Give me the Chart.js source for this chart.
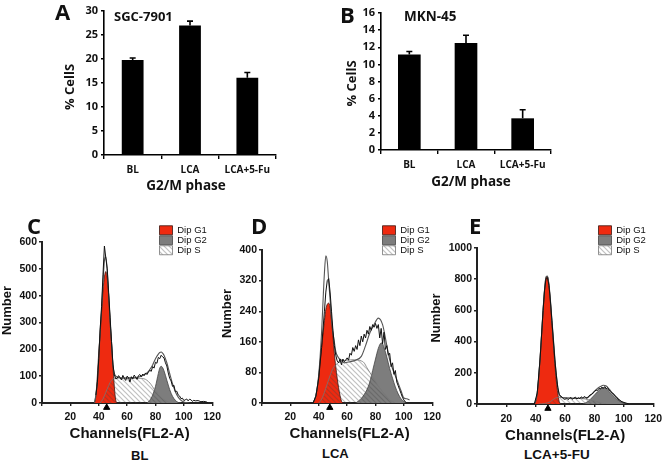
<!DOCTYPE html>
<html><head><meta charset="utf-8">
<style>
html,body{margin:0;padding:0;background:#fff;width:668px;height:463px;overflow:hidden}
body{filter:blur(.3px)}
canvas{position:absolute;display:block;background:transparent}
.t{position:absolute;white-space:nowrap;color:#111;font-weight:700;line-height:1}
.o{font-family:"Open Sans",sans-serif}
.l{font-family:"Liberation Sans",Arial,sans-serif}
</style>
<script src="https://cdn.jsdelivr.net/npm/chart.js@4/dist/chart.umd.min.js"></script>
</head><body>
<canvas id="a"></canvas><canvas id="b"></canvas><canvas id="c"></canvas><canvas id="d"></canvas><canvas id="e"></canvas>
<div class="t o" style="left:55px;top:0px;font-size:22px">A</div>
<div class="t o" style="left:114px;top:10px;font-size:13px">SGC-7901</div>
<div class="t o" style="left:340px;top:3px;font-size:22px">B</div>
<div class="t o" style="left:404px;top:10px;font-size:13.5px">MKN-45</div>
<div class="t o" style="left:27px;top:214px;font-size:22px">C</div>
<div class="t o" style="left:251px;top:214px;font-size:22px">D</div>
<div class="t o" style="left:469px;top:214px;font-size:22px">E</div>
<div class="t l" style="left:131px;top:449px;font-size:13px">BL</div>
<div class="t l" style="left:322px;top:447px;font-size:13px">LCA</div>
<div class="t l" style="left:524px;top:448px;font-size:13.5px">LCA+5-FU</div>
<script>
// Bar panels
const barCategories = ['BL', 'LCA', 'LCA+5-Fu'];
const aValues = [19.8, 27, 16.1];
const aErrors = [0.4, 0.9, 1.1];
const bValues = [11.15, 12.5, 3.7];
const bErrors = [0.35, 0.9, 1.0];

// Histogram panel C
const cG1X = [37,38,39,40,41,42,43,44,45,46,47,48,49,50,51,52,53];
const cG1Y = [0,30,100,190,260,340,420,470,490,465,400,300,230,140,60,10,0];
const cSX = [41,43,45,47,49,51,55,60,65,70,73,75,77,79,81,83,85,87,89,91];
const cSY = [0,15,40,65,85,92,93,92,92,92,88,80,68,52,38,26,16,9,3,0];
const cG2X = [74,76,78,80,82,83,84,85,86,88,90,92,94,96,98];
const cG2Y = [0,10,30,62,110,130,137,132,120,85,50,25,10,2,0];
const cFitX = [37,38,39,40,41,42,43,44,45,46,47,48,49,50,51,52,54,58,62,66,70,74,76,78,80,82,83,84,85,86,88,90,92,94,96,98,100,104];
const cFitY = [0,30,75,160,270,350,450,530,545,490,400,310,220,140,110,100,95,93,94,95,100,112,125,142,165,182,188,190,186,178,150,110,72,42,22,10,4,0];
const cRawX = [38,39,40,41,42,43,44,45,46,47,48,49,50,51,52,53,54,55,56,57,58,59,60,61,62,63,64,65,66,67,68,69,70,71,72,73,74,75,76,77,78,79,80,81,82,83,84,85,86,87,88,89,90,91,92,93,94,95,96,97,98,99,100,101,102,103,104,105,106,107,108,110,112,114,116,117];
const cRawY = [30,75,165,275,360,480,585,540,500,410,320,230,145,105,90,92,102,95,86,103,92,84,100,95,78,98,90,104,96,88,102,106,98,108,102,112,106,115,122,118,136,130,152,148,170,165,178,172,168,150,138,112,92,82,62,66,42,44,30,26,16,18,9,12,15,8,14,12,6,10,8,9,5,6,4,0];

// Histogram panel D
const dG1X = [36,38,40,41,42,44,45,46,47,48,49,50,51,52,53,54,55,56,57];
const dG1Y = [0,20,70,110,145,215,245,258,261,250,215,175,130,95,65,40,20,5,0];
const dSX = [40,42,44,46,48,50,52,55,60,65,70,72,74,76,78,80,82,84,86,88,90,92,94];
const dSY = [0,10,28,50,72,90,100,108,112,113,110,105,92,80,68,56,44,34,25,16,8,3,0];
const dG2X = [66,68,70,72,74,76,78,80,82,84,85,86,88,90,92,94,96,98,100,102];
const dG2Y = [0,5,12,22,35,55,85,115,143,157,155,145,120,90,65,42,24,11,4,0];
const dFitX = [36,38,40,42,43,44,45,46,47,48,49,50,51,52,54,56,58,62,66,70,73,76,79,82,85,88,90,93,96,98,100,102,104];
const dFitY = [0,20,75,185,265,340,385,370,320,270,220,185,160,135,118,112,105,108,112,122,150,183,205,222,205,150,113,80,52,32,13,11,8];
const dRawX = [36,38,40,42,44,45,46,47,48,49,50,51,52,53,54,55,56,57,58,59,60,61,62,63,64,65,66,67,68,69,70,71,72,73,74,75,76,77,78,79,80,81,82,83,84,85,86,87,88,89,90,91,92,93,94,95,96,97,98,99,100,101,102];
const dRawY = [0,18,65,145,240,290,320,325,290,240,190,150,125,110,105,115,100,115,108,112,118,112,130,125,145,135,150,140,165,150,175,160,180,170,190,180,200,190,205,198,208,195,205,170,195,155,185,140,150,125,130,95,105,75,85,55,45,35,25,15,8,3,0];

// Histogram panel E
const eG1X = [39,40,41,42,43,44,45,46,47,48,49,50,51,52,53,54,55,56,57];
const eG1Y = [0,20,70,170,300,450,600,730,810,815,760,650,520,390,260,150,70,15,0];
const eSX = [42,46,50,52,54,56,60,65,70,74,76,78,80,82,84,86,88];
const eSY = [0,3,15,30,40,42,40,38,35,32,28,24,20,14,8,4,0];
const eG2X = [72,74,76,78,80,82,84,86,88,90,92,94,96,98,100,102];
const eG2Y = [0,8,20,38,58,78,95,104,100,80,60,40,25,12,5,0];
const eFitX = [39,40,41,42,43,44,45,46,47,48,49,50,51,52,53,54,55,56,58,60,62,66,70,74,76,78,80,82,84,86,88,90,92,94,96,98,100,104];
const eFitY = [0,20,70,170,300,450,605,735,815,820,765,665,540,420,295,190,110,60,42,40,38,36,38,40,45,62,82,100,112,120,115,95,72,50,32,16,8,0];
const eRawX = [39,41,43,45,46,47,48,49,50,51,52,53,54,55,56,57,58,59,60,61,62,63,64,65,66,67,68,69,70,71,72,73,74,75,76,77,78,79,80,81,82,83,84,85,86,87,88,89,90,91,92,93,94,95,96,97,98,99,100,102,104];
const eRawY = [0,70,295,600,730,805,810,760,660,535,410,285,185,105,62,50,44,32,30,38,28,36,42,30,38,44,32,40,34,46,38,48,42,36,50,58,62,70,78,90,86,100,96,108,100,112,98,104,88,82,70,66,52,46,32,28,18,14,10,4,0];

// Triangle markers under each histogram axis
const cMarker = [45.6];
const dMarker = [47.8];
const eMarker = [48.3];
const markerDrop = { c: -17, d: -12, e: -29 };

const legendNames = ['Dip G1', 'Dip G2', 'Dip S'];
const RED = '#ee2a10', GREY = '#7d7d7d', INK = '#111';
const OPEN = '"Open Sans", sans-serif', LIB = '"Liberation Sans", Arial, sans-serif';

function hatch(){
  const t = document.createElement('canvas');
  t.width = t.height = 5;
  const g = t.getContext('2d');
  g.strokeStyle = 'rgba(70,70,70,.34)';
  g.lineWidth = 1.2;
  g.beginPath();
  g.moveTo(-1,-1); g.lineTo(6,6);
  g.moveTo(4,-1); g.lineTo(6,1);
  g.moveTo(-1,4); g.lineTo(1,6);
  g.stroke();
  return g.createPattern(t,'repeat');
}
const pts = (xs, ys) => xs.map((x,i) => ({x, y: ys[i]}));

// moves an axis title a little away from the plot-centred default
function nudge(s, dx, dy){
  if(s._nudged) return;
  s._nudged = true;
  const draw = s.drawTitle;
  s.drawTitle = function(){
    const g = this.ctx;
    g.save(); g.translate(dx, dy);
    draw.call(this);
    g.restore();
  };
}

const errorBars = {
  id: 'errorBars',
  afterDatasetsDraw(chart, _a, o){
    if(!o.values) return;
    const g = chart.ctx, y = chart.scales.y, m = chart.getDatasetMeta(0);
    g.save(); g.strokeStyle = '#000'; g.lineWidth = 1.6;
    o.values.forEach((e,i) => {
      const b = m.data[i], top = y.getPixelForValue(chart.data.datasets[0].data[i] + e);
      g.beginPath();
      g.moveTo(b.x, b.y); g.lineTo(b.x, top);
      g.moveTo(b.x-3, top); g.lineTo(b.x+3, top);
      g.stroke();
    });
    g.restore();
  }
};
const legendPlace = {
  id: 'legendPlace',
  afterLayout(chart, _a, o){
    if(o.left === undefined || !chart.legend) return;
    chart.legend.left = o.left; chart.legend.top = o.top;
  }
};

function setBox(id, left, top, w, h){
  const c = document.getElementById(id);
  c.width = w; c.height = h;
  c.style.left = left+'px'; c.style.top = top+'px';
  c.style.width = w+'px'; c.style.height = h+'px';
  return c;
}

function barChart(id, box, plot, vals, errs, max, step, pct){
  const c = setBox(id, ...box);
  new Chart(c, {
    type: 'bar',
    data: { labels: barCategories, datasets: [{ data: vals, backgroundColor: '#000', barPercentage: pct, categoryPercentage: 1 }] },
    plugins: [errorBars],
    options: {
      responsive: false, animation: false,
      layout: { padding: { top: plot.top, right: plot.right, left: 0, bottom: 0 } },
      plugins: { legend: { display: false }, tooltip: { enabled: false }, errorBars: { values: errs } },
      scales: {
        x: {
          afterFit: s => { s.height = plot.xh; nudge(s, plot.xdx, 0); },
          border: { color: '#000', width: 1.6 },
          grid: { drawOnChartArea: false, drawTicks: true, tickLength: 4, color: '#000', lineWidth: 1.4 },
          ticks: { color: INK, padding: 5, maxRotation: 0, autoSkip: false, font: { family: OPEN, weight: 'bold', size: 10 } },
          title: { display: true, text: 'G2/M phase', color: INK, padding: { top: 0, bottom: 0 }, font: { family: OPEN, weight: 'bold', size: 13.5 } }
        },
        y: {
          min: 0, max, afterFit: s => { s.width = plot.yw; nudge(s, 0, plot.ydy); },
          border: { color: '#000', width: 1.6 },
          grid: { drawOnChartArea: false, drawTicks: true, tickLength: 3, color: '#000', lineWidth: 1.4 },
          ticks: { stepSize: step, color: INK, padding: 3, font: { family: OPEN, weight: 'bold', size: 11 } },
          title: { display: true, text: '% CellS', color: INK, padding: { top: 0, bottom: 0 }, font: { family: OPEN, weight: 'bold', size: 13 } }
        }
      }
    }
  });
}

function histChart(id, box, plot, d, max, step, leg){
  const c = setBox(id, ...box);
  const line = { showLine: true, pointRadius: 0, pointHoverRadius: 0, cubicInterpolationMode: 'monotone' };
  new Chart(c, {
    type: 'scatter',
    data: { datasets: [
      { ...line, label: legendNames[0], data: pts(d.g1x, d.g1y), fill: 'origin', backgroundColor: RED, borderColor: '#3a1510', borderWidth: 0.8, order: 7 },
      { ...line, label: legendNames[1], data: pts(d.g2x, d.g2y), fill: 'origin', backgroundColor: GREY, borderColor: '#444', borderWidth: 0.8, order: 6 },
      { ...line, label: legendNames[2], data: pts(d.sx, d.sy), fill: 'origin', backgroundColor: hatch(), borderColor: '#777', borderWidth: 0.8, order: 5 },
      { ...line, data: pts(d.fx, d.fy), borderColor: '#555', borderWidth: 1.1, order: 4 },
      { showLine: true, pointRadius: 0, data: pts(d.rx, d.ry), borderColor: '#111', borderWidth: 1, order: 2 },
      { data: d.mark.map(x => ({ x, y: d.drop })), pointStyle: 'triangle', pointRadius: 3.6, borderWidth: 1, backgroundColor: '#000', borderColor: '#000', clip: false, order: 1 }
    ] },
    plugins: [legendPlace],
    options: {
      responsive: false, animation: false,
      layout: { padding: { top: plot.top, right: plot.right, left: 0, bottom: 0 } },
      plugins: {
        tooltip: { enabled: false },
        legendPlace: leg,
        legend: {
          position: 'chartArea', align: 'start',
          labels: {
            boxWidth: 13, boxHeight: 9, padding: 0.5, color: '#111',
            font: { family: LIB, size: 9.5 },
            filter: i => !!i.text,
            sort: (a, b) => a.datasetIndex - b.datasetIndex
          }
        }
      },
      scales: {
        x: {
          type: 'linear', min: 0, max: 120, afterFit: s => { s.height = plot.xh; nudge(s, plot.xdx, 1.5); },
          border: { color: '#222', width: 2 },
          grid: { drawOnChartArea: false, drawTicks: true, tickLength: 3, color: '#222', lineWidth: 1.4 },
          ticks: { stepSize: 20, color: INK, padding: plot.xpad, maxRotation: 0, callback: v => v === 0 ? '' : String(v), font: { family: LIB, weight: 'bold', size: 10.5 } },
          title: { display: true, text: 'Channels(FL2-A)', color: INK, padding: { top: 0, bottom: 0 }, font: { family: LIB, weight: 'bold', size: 15 } }
        },
        y: {
          min: 0, max, afterFit: s => { s.width = plot.yw; nudge(s, 0, plot.ydy); },
          border: { color: '#222', width: 2 },
          grid: { drawOnChartArea: false, drawTicks: true, tickLength: 3, color: '#222', lineWidth: 1.4 },
          ticks: { stepSize: step, color: INK, padding: 2, callback: v => String(v), font: { family: LIB, weight: 'bold', size: 10.5 } },
          title: { display: true, text: 'Number', color: INK, padding: { top: 0, bottom: 0 }, font: { family: LIB, weight: 'bold', size: 13 } }
        }
      }
    }
  });
}

barChart('a', [62,0,218,194], { top: 11, right: 4, xh: 39, yw: 42, xdx: -4, ydy: 4 }, aValues, aErrors, 30, 5, 0.38);
barChart('b', [344,0,211,190], { top: 13, right: 4, xh: 40, yw: 37, xdx: 5, ydy: 2 }, bValues, bErrors, 16, 2, 0.40);
histChart('c', [0,212,226,229], { top: 30, right: 8, xh: 38, yw: 42, xdx: 2.5, ydy: -12, xpad: 5 },
  { g1x: cG1X, g1y: cG1Y, sx: cSX, sy: cSY, g2x: cG2X, g2y: cG2Y, fx: cFitX, fy: cFitY, rx: cRawX, ry: cRawY, mark: cMarker, drop: markerDrop.c },
  600, 100, { left: 159, top: 13 });
histChart('d', [220,212,226,229], { top: 38, right: 9, xh: 38, yw: 42, xdx: 2.5, ydy: -13, xpad: 5 },
  { g1x: dG1X, g1y: dG1Y, sx: dSX, sy: dSY, g2x: dG2X, g2y: dG2Y, fx: dFitX, fy: dFitY, rx: dRawX, ry: dRawY, mark: dMarker, drop: markerDrop.d },
  400, 80, { left: 162, top: 13 });
histChart('e', [429,212,239,231], { top: 36, right: 9, xh: 39, yw: 48, xdx: 0, ydy: -8, xpad: 6 },
  { g1x: eG1X, g1y: eG1Y, sx: eSX, sy: eSY, g2x: eG2X, g2y: eG2Y, fx: eFitX, fy: eFitY, rx: eRawX, ry: eRawY, mark: eMarker, drop: markerDrop.e },
  1000, 200, { left: 169, top: 13 });
</script>
</body></html>
